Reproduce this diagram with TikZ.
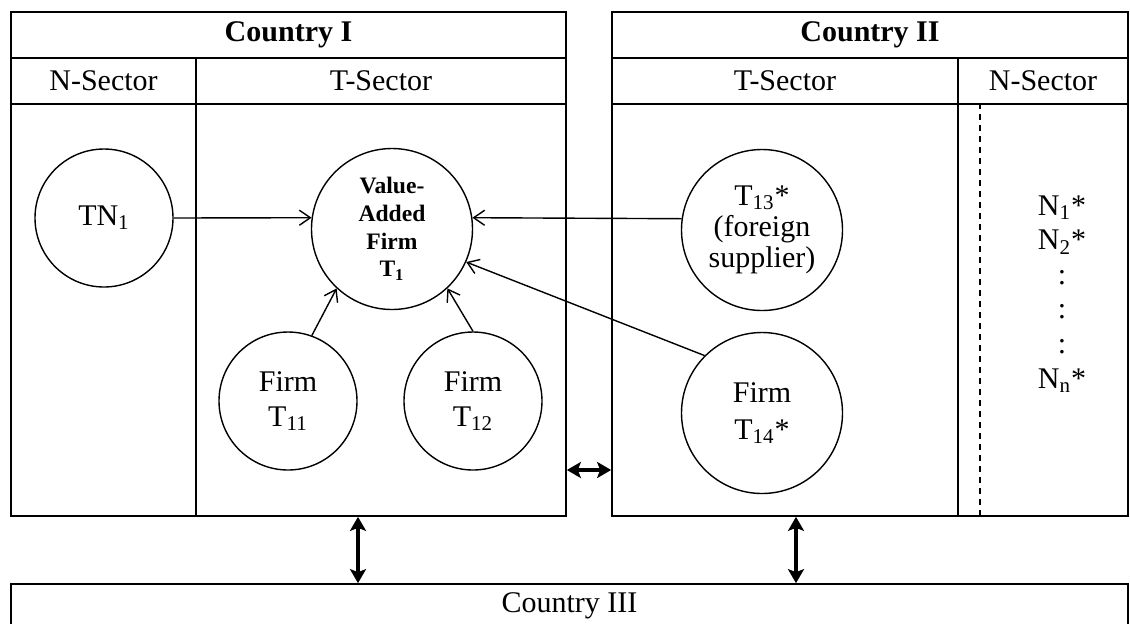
\documentclass[tikz,border=0pt]{standalone}
\usepackage{fontspec}
\setmainfont{Liberation Serif}
\usetikzlibrary{arrows.meta,fit}

\tikzset{
  box/.style={draw=black,line width=0.85pt,inner sep=0pt},
  txt/.style={inner sep=0pt,font=\fontsize{15}{17}\selectfont},
  headtxt/.style={inner sep=0pt,font=\fontsize{15}{17}\selectfont\bfseries},
  firm/.style={circle,draw=black,line width=0.7pt,inner sep=0pt,minimum size=69pt,align=center,font=\fontsize{15}{17.5}\selectfont},
  bigfirm/.style={firm,minimum size=80.5pt},
  flow/.style={line width=0.7pt,-{Straight Barb[length=5.5pt,width=7.5pt]}},
  trade/.style={line width=1.6pt,{Stealth[length=7pt,width=8pt,inset=1.5pt]}-{Stealth[length=7pt,width=8pt,inset=1.5pt]}},
}

\begin{document}
\begin{tikzpicture}[x=0.5pt,y=-0.5pt]
  \useasboundingbox (0,0) rectangle (1130,623);

  % country I
  \node[box,fit={(11,12) (566,58)}] (c1head) {};
  \node[box,fit={(11,58) (196,104)}] (c1n) {};
  \node[box,fit={(196,58) (566,104)}] (c1t) {};
  \node[box,fit={(11,104) (196,516)}] (c1nb) {};
  \node[box,fit={(196,104) (566,516)}] (c1tb) {};
  \node[headtxt] (c1title) at (c1head) {Country I};
  \node[txt] (c1nlabel) at (c1n) {N-Sector};
  \node[txt] (c1tlabel) at (c1t) {T-Sector};

  % country II
  \node[box,fit={(612,12) (1128,58)}] (c2head) {};
  \node[box,fit={(612,58) (958,104)}] (c2t) {};
  \node[box,fit={(958,58) (1128,104)}] (c2n) {};
  \node[box,fit={(612,104) (958,516)}] (c2tb) {};
  \node[box,fit={(958,104) (1128,516)}] (c2nb) {};
  \node[headtxt] (c2title) at (c2head) {Country II};
  \node[txt] (c2tlabel) at (c2t) {T-Sector};
  \node[txt] (c2nlabel) at (c2n) {N-Sector};
  \draw[line width=0.8pt,dash pattern=on 3pt off 2.5pt] ([xshift=11.5pt]c2nb.north west) -- ([xshift=11.5pt]c2nb.south west);

  % country III (runs past the lower edge)
  \node[box,fit={(11,584) (1128,628)}] (c3) {};
  \node[txt] (c3title) at (c3) {Country III};

  % firms
  \node[firm] (tn1) at (104,218) {TN\textsubscript{1}};
  \node[bigfirm,font=\fontsize{11.8}{13.85}\selectfont\bfseries] (va) at (392,229) {Value-\\Added\\Firm\\T\textsubscript{1}};
  \node[firm] (t11) at (288,401) {Firm\\T\textsubscript{11}};
  \node[firm] (t12) at (473,401) {Firm\\T\textsubscript{12}};
  \node[bigfirm,font=\fontsize{15}{15.5}\selectfont] (t13) at (762,230) {T\textsubscript{13}*\\(foreign\\supplier)};
  \node[bigfirm,font=\fontsize{15}{18.3}\selectfont] (t14) at (762,413) {Firm\\T\textsubscript{14}*};
  \node[align=center,font=\fontsize{15}{17.3}\selectfont] (nlist) at (1062,294) {N\textsubscript{1}*\\N\textsubscript{2}*\\:\\:\\:\\N\textsubscript{n}*};

  % inputs into the value-added firm
  \draw[flow] (tn1.east) -- (va.172);
  \draw[flow] (t13.172) -- (va.8);
  \draw[flow] (t11.70) -- (va.227);
  \draw[flow] (t12.north) -- (va.313);
  \draw[flow] (t14.135) -- (va.336);

  % trade between the countries
  \draw[trade] (c1tb.east |- 0,470) -- (c2tb.west |- 0,470);
  \draw[trade] (c1tb.south -| 358,0) -- (c3.north -| 358,0);
  \draw[trade] (c2tb.south -| 796,0) -- (c3.north -| 796,0);
\end{tikzpicture}
\end{document}
